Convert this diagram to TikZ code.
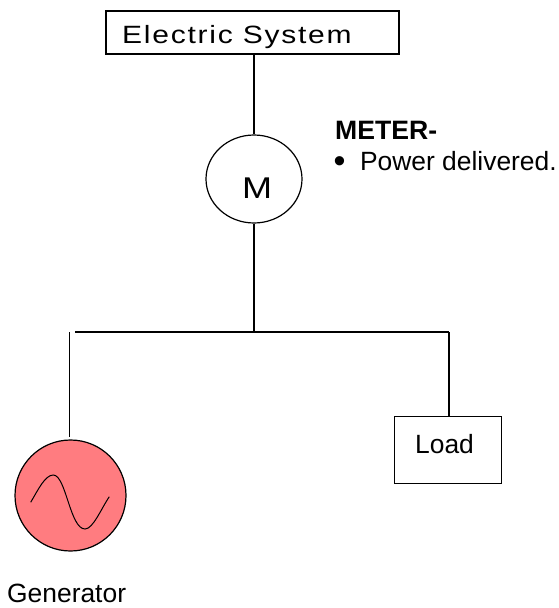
\documentclass[tikz,border=0pt]{standalone}
\usepackage{fontspec}
\setmainfont{Liberation Sans}
\usepackage{xcolor}
\usetikzlibrary{positioning,shapes.geometric}
\definecolor{genred}{HTML}{FF7C80}

\begin{document}
\begin{tikzpicture}[x=1pt,y=-1pt,
    box/.style={draw, rectangle, line width=1.4pt, inner sep=0pt},
    meter/.style={draw, ellipse, line width=1.2pt, inner sep=0pt},
    wire/.style={line width=1.4pt},
    label/.style={inner sep=0pt, anchor=base west, font=\fontsize{26.4}{28}\selectfont}
  ]
    \useasboundingbox (0,0) rectangle (558,608);
    \node[box, minimum width=293pt, minimum height=43pt] (system) at (252.5,32.5) {};
    \node[label, font=\fontsize{25}{28}\selectfont\addfontfeatures{FakeStretch=1.2,LetterSpace=7}] (systemtext) at (122,43) {Electric System};
    \node[meter, minimum width=96pt, minimum height=88pt] (m) at (254,179) {};
    \node[label, font=\fontsize{30}{32}\selectfont\addfontfeatures{FakeStretch=1.2}] (mtext) at (242,198) {M};
    \coordinate (bus) at (254,332);
    \coordinate (busleft) at (75,332);
    \coordinate (busright) at (449,332);
    \coordinate (gentop) at (69.2,332);
    \coordinate (genlow) at (69.2,437);
    \node[meter, fill=genred, minimum width=111pt, minimum height=111pt] (gen) at (70.5,495.5) {};
    \node[box, minimum width=107pt, minimum height=67pt] (load) at (448,450) {};
    \node[label] (loadtext) at (415,453.3) {Load};
    \node[label] (gentext) at (7,602.7) {Generator};
    \node[label, font=\fontsize{26.6}{28}\selectfont\bfseries] (metertitle) at (335,139) {METER-};
    \node[label] (meterbullet) at (333.5,170.7) {{\fontsize{34}{34}\selectfont\raisebox{-2pt}{\textbullet}}\hspace{14.5pt}Power delivered.};
    \draw[wire] (system.south -| m) -- (m);
    \draw[wire] (m) -- (bus);
    \draw[wire] (busleft) -- (busright);
    \draw[wire] (busright) -- (busright |- load.north);
    \draw[wire] (gentop) -- (genlow);
    \draw[line width=1pt] (30.7,502.3) .. controls (38,490) and (45,475) .. (53.3,475)
      .. controls (66,475) and (70,529) .. (85,529) .. controls (93,529) and (101,509) .. (109.3,496.7);
  \end{tikzpicture}
\end{document}
